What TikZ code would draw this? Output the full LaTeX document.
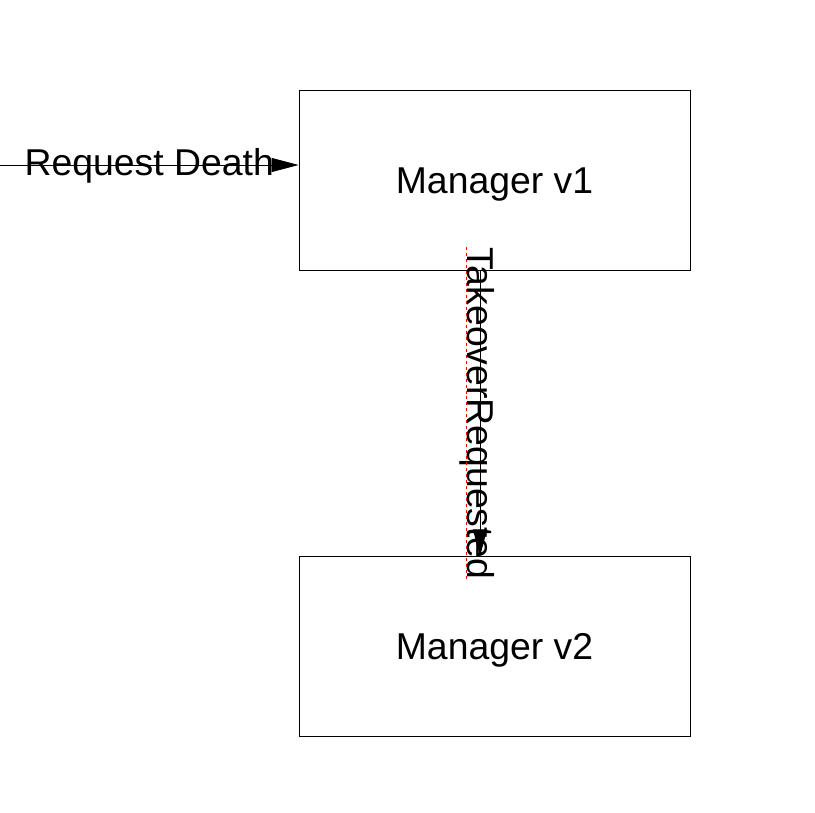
\documentclass[tikz,border=0pt]{standalone}
\usepackage{fontspec}
\setmainfont{Liberation Sans}
\usetikzlibrary{arrows.meta,positioning,calc}

\begin{document}
\begin{tikzpicture}[x=1bp, y=-1bp,
        box/.style={draw, line width=0.8bp, minimum width=391bp, minimum height=180bp, inner sep=0pt, text height=34bp, text depth=8bp, font=\fontsize{37.5}{44}\selectfont},
        flow/.style={-{Triangle[length=27bp, width=14bp]}, line width=0.8bp},
        lbl/.style={font=\fontsize{37.5}{44}\selectfont, inner sep=0pt},
        spell/.style={red, dashed, line width=0.8bp}]
        \useasboundingbox (0,0) rectangle (815,813);
        \node[box] (v1) at (494.5,180) {Manager v1};
        \node[box, below=286bp of v1] (v2) {Manager v2};
        \coordinate (src) at (0,165);
        \coordinate (tkA) at ([xshift=-14.5bp]v1.south);
        \coordinate (tkB) at ([xshift=-14.5bp]v2.north);
        \draw[flow] (src) -- (src -| v1.west) node[lbl, midway, text height=28bp, text depth=8bp] (rd) {Request Death};
        \draw[flow] (tkA) -- (tkB);
        \node[lbl, rotate=-90, anchor=base] (tr) at ([xshift=-13bp]$(tkA)!0.5!(tkB)$) {TakeoverRequested};
        \draw[spell] ([xshift=-1bp]tr.base west) -- ([xshift=-1bp]tr.base east);
    \end{tikzpicture}
\end{document}
